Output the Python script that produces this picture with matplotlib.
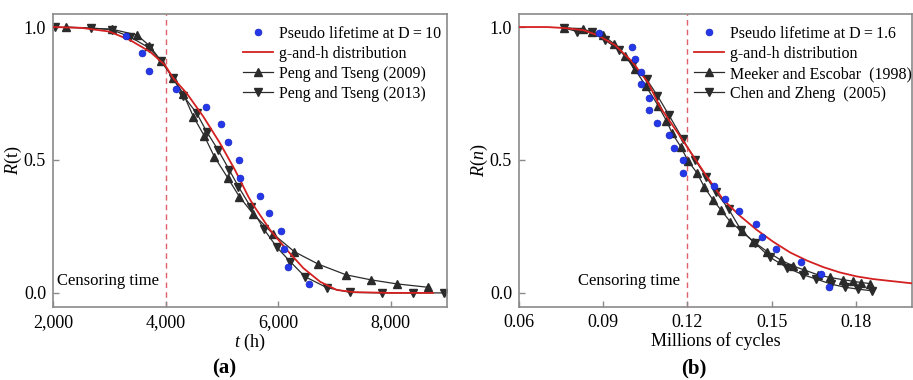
import matplotlib
matplotlib.use("Agg")
import matplotlib.pyplot as plt
from matplotlib.ticker import FuncFormatter, FixedLocator

plt.rcParams['font.family'] = ['Liberation Serif', 'DejaVu Serif']
plt.rcParams['mathtext.fontset'] = 'custom'
plt.rcParams['mathtext.rm'] = 'Liberation Serif'
plt.rcParams['mathtext.it'] = 'Liberation Serif:italic'

# ---------------- Panel (a) data ----------------
a_pseudo_t = [3297, 3587, 3700, 4185, 4718, 4985, 5112, 5296, 5330, 5686, 5843, 6048, 6102, 6170, 6540]
a_pseudo_R = [0.967, 0.901, 0.835, 0.766, 0.700, 0.634, 0.566, 0.499, 0.433, 0.366, 0.300, 0.233, 0.165, 0.099, 0.033]

a_gh_t = [2000, 2500, 3000, 3368, 3724, 3990, 4138, 4375, 4671, 4967, 5234, 5471, 5560,
          5856, 6153, 6449, 6746, 7042, 7338, 8000, 8750]
a_gh_R = [1.000, 0.997, 0.983, 0.951, 0.907, 0.857, 0.807, 0.751, 0.663, 0.563, 0.462, 0.362, 0.330,
          0.237, 0.162, 0.093, 0.042, 0.011, 0.003, 0.000, 0.000]

a_pt09_t = [2231, 3043, 3493, 3712, 3919, 4133, 4316, 4494, 4689, 4867, 5104, 5311, 5560,
            5915, 6288, 6715, 7207, 7651, 8107, 8670]
a_pt09_R = [1.000, 0.992, 0.970, 0.930, 0.873, 0.810, 0.748, 0.663, 0.590, 0.512, 0.433, 0.362, 0.296,
            0.221, 0.155, 0.108, 0.068, 0.049, 0.034, 0.021]

a_pt13_t = [2036, 2670, 3043, 3368, 3706, 3919, 4127, 4316, 4553, 4731, 4938, 5128, 5293, 5513,
            5750, 5975, 6212, 6478, 6863, 7278, 7840, 8391, 8948]
a_pt13_R = [1.000, 0.996, 0.990, 0.963, 0.922, 0.872, 0.810, 0.741, 0.676, 0.606, 0.536, 0.464, 0.400, 0.323,
            0.239, 0.172, 0.118, 0.061, 0.020, 0.002, 0.000, 0.000, 0.000]

a_censor = 4000
a_xticks = [2000, 4000, 6000, 8000]

# ---------------- Panel (b) data ----------------
b_pseudo_n = [0.0885, 0.1003, 0.1013, 0.1034, 0.1034, 0.1063, 0.1063, 0.1093, 0.1134, 0.1152, 0.1183,
              0.1183, 0.1293, 0.1334, 0.1384, 0.1443, 0.1465, 0.1515, 0.1604, 0.1676, 0.1705]
b_pseudo_R = [0.976, 0.926, 0.878, 0.832, 0.785, 0.734, 0.688, 0.640, 0.594, 0.546, 0.500,
              0.450, 0.403, 0.355, 0.308, 0.261, 0.212, 0.164, 0.118, 0.070, 0.024]

b_gh_n = [0.0600, 0.0700, 0.0764, 0.0830, 0.0883, 0.0942, 0.1002, 0.1061, 0.1102, 0.1174, 0.1221,
          0.1269, 0.1328, 0.1387, 0.1447, 0.1506, 0.1566, 0.1625, 0.1684, 0.1743, 0.1803, 0.1862,
          0.1922, 0.2000]
b_gh_R = [1.000, 1.000, 0.996, 0.988, 0.968, 0.932, 0.871, 0.789, 0.700, 0.589, 0.514,
          0.438, 0.350, 0.290, 0.237, 0.192, 0.152, 0.122, 0.097, 0.077, 0.062, 0.052,
          0.045, 0.036]

b_me_n = [0.0761, 0.0827, 0.0859, 0.0898, 0.0940, 0.0978, 0.1013, 0.1052, 0.1096, 0.1125, 0.1146,
          0.1176, 0.1203, 0.1235, 0.1259, 0.1292, 0.1321, 0.1353, 0.1393, 0.1435, 0.1485, 0.1532,
          0.1577, 0.1617, 0.1665, 0.1708, 0.1753, 0.1789, 0.1819, 0.1852]
b_me_R = [0.998, 0.992, 0.982, 0.970, 0.936, 0.891, 0.841, 0.778, 0.704, 0.648, 0.600,
          0.550, 0.495, 0.450, 0.400, 0.348, 0.310, 0.267, 0.232, 0.193, 0.155, 0.124,
          0.101, 0.086, 0.068, 0.058, 0.050, 0.044, 0.039, 0.035]

b_cz_n = [0.0761, 0.0808, 0.0859, 0.0906, 0.0957, 0.1005, 0.1055, 0.1093, 0.1134, 0.1183, 0.1227,
          0.1267, 0.1302, 0.1347, 0.1391, 0.1441, 0.1494, 0.1555, 0.1610, 0.1659, 0.1712, 0.1763,
          0.1809, 0.1857]
b_cz_R = [0.996, 0.983, 0.980, 0.951, 0.914, 0.860, 0.803, 0.742, 0.669, 0.579, 0.501,
          0.436, 0.379, 0.315, 0.236, 0.187, 0.134, 0.095, 0.069, 0.052, 0.033, 0.021,
          0.014, 0.008]

b_censor = 0.12
b_xticks = [0.06, 0.09, 0.12, 0.15, 0.18]

y_ticks = [0.0, 0.5, 1.0]

# ---------------- Styles ----------------
BLUE = '#2438e8'
RED = '#d42020'
BLK = '#2b2b2b'
SPINE = '#8a8a8a'
DASH = '#e0606a'

fig = plt.figure(figsize=(9.13, 3.8), dpi=100)
ax1 = fig.add_axes([53 / 913, 1 - 307 / 380, 394 / 913, 293 / 380])
ax2 = fig.add_axes([519 / 913, 1 - 307 / 380, 393 / 913, 293 / 380])


def style(ax):
    for s in ax.spines.values():
        s.set_color(SPINE)
        s.set_linewidth(1.2)
    ax.tick_params(direction='in', length=4, width=1, color=SPINE,
                   labelsize=13, pad=5)
    ax.set_ylim(-0.053, 1.049)
    ax.yaxis.set_major_locator(FixedLocator(y_ticks))
    ax.yaxis.set_major_formatter(FuncFormatter(lambda v, p: f"{v:.1f}"))


LEG = dict(loc='upper left', frameon=False, fontsize=11.5, handlelength=1.9,
           handletextpad=0.35, labelspacing=0.25, borderaxespad=0.0, borderpad=0.0)

# Panel (a)
style(ax1)
ax1.axvline(a_censor, color=DASH, ls=(0, (4, 3)), lw=1.0, zorder=1)
ax1.plot(a_pseudo_t, a_pseudo_R, 'o', color=BLUE, ms=5, mec='#1020c0', mew=0.4,
         label='Pseudo lifetime at D\u2009=\u200910', zorder=4)
ax1.plot(a_gh_t, a_gh_R, '-', color=RED, lw=1.3, label='g-and-h distribution', zorder=3)
ax1.plot(a_pt09_t, a_pt09_R, '-^', color=BLK, lw=0.9, ms=5.5, label='Peng and Tseng (2009)', zorder=2)
ax1.plot(a_pt13_t, a_pt13_R, '-v', color=BLK, lw=0.9, ms=5.5, label='Peng and Tseng (2013)', zorder=2)
ax1.set_xlim(2000, 9000)
ax1.xaxis.set_major_locator(FixedLocator(a_xticks))
ax1.xaxis.set_major_formatter(FuncFormatter(lambda v, p: f"{int(v):,}"))
ax1.set_xlabel(r'$t$ (h)', fontsize=13, labelpad=1)
ax1.set_ylabel(r'$R$(t)', fontsize=13, labelpad=0)
ax1.annotate('Censoring time', xy=(a_censor, 0.045), xytext=(-5, 0),
             textcoords='offset points', ha='right', va='center', fontsize=12)
ax1.legend(bbox_to_anchor=((243 - 53) / 394, (307 - 26) / 293), **LEG)

# Panel (b)
style(ax2)
ax2.axvline(b_censor, color=DASH, ls=(0, (4, 3)), lw=1.0, zorder=1)
ax2.plot(b_pseudo_n, b_pseudo_R, 'o', color=BLUE, ms=5, mec='#1020c0', mew=0.4,
         label='Pseudo lifetime at D\u2009=\u20091.6', zorder=4)
ax2.plot(b_gh_n, b_gh_R, '-', color=RED, lw=1.3, label='g-and-h distribution', zorder=3)
ax2.plot(b_me_n, b_me_R, '-^', color=BLK, lw=0.9, ms=5.5, label='Meeker and Escobar  (1998)', zorder=2)
ax2.plot(b_cz_n, b_cz_R, '-v', color=BLK, lw=0.9, ms=5.5, label='Chen and Zheng  (2005)', zorder=2)
ax2.set_xlim(0.06, 0.20)
ax2.xaxis.set_major_locator(FixedLocator(b_xticks))
ax2.xaxis.set_major_formatter(FuncFormatter(lambda v, p: f"{v:.2f}"))
ax2.set_xlabel('Millions of cycles', fontsize=13, labelpad=1)
ax2.set_ylabel(r'$R(n)$', fontsize=13, labelpad=0)
ax2.annotate('Censoring time', xy=(b_censor, 0.045), xytext=(-5, 0),
             textcoords='offset points', ha='right', va='center', fontsize=12)
ax2.legend(bbox_to_anchor=((694 - 519) / 393, (307 - 26) / 293), **LEG)

fig.text(224 / 913, 1 - 368 / 380, '(a)', ha='center', va='center', fontsize=15, fontweight='bold')
fig.text(694 / 913, 1 - 368 / 380, '(b)', ha='center', va='center', fontsize=15, fontweight='bold')

fig.savefig('out.png', dpi=100)
